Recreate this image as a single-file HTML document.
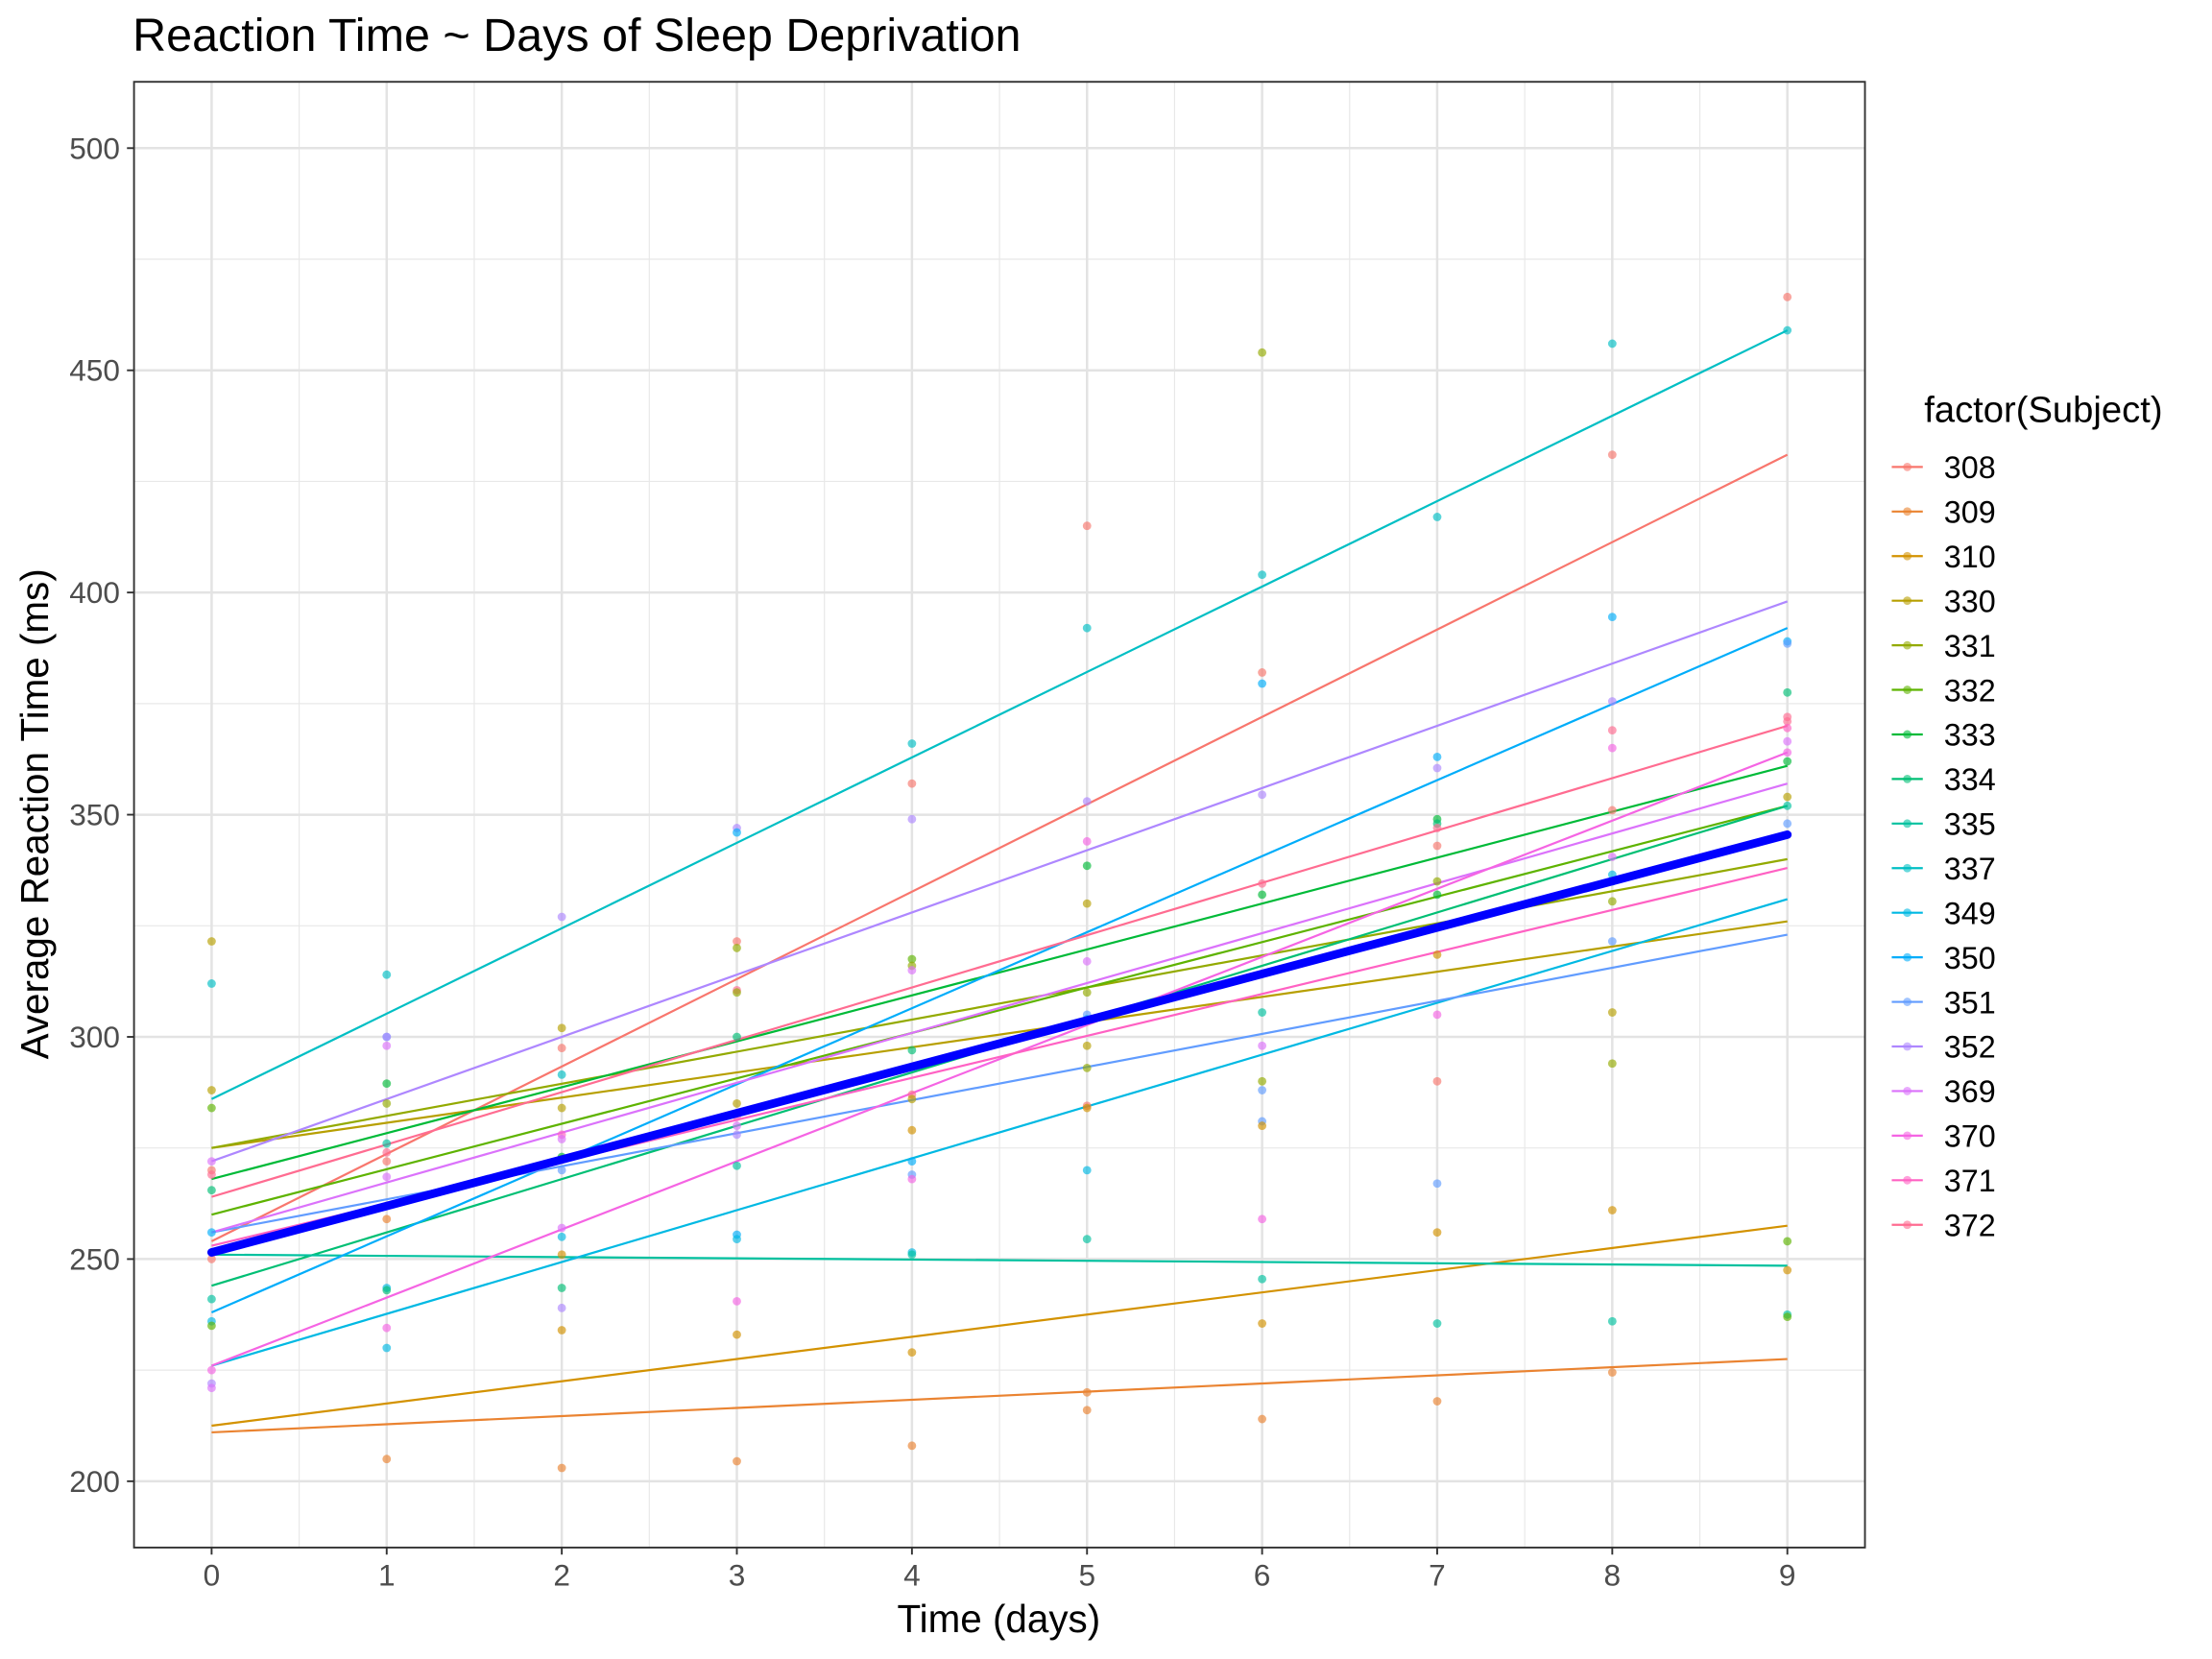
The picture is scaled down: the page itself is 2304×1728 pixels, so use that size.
<!DOCTYPE html>
<html><head><meta charset="utf-8"><style>
html,body{margin:0;padding:0;background:#fff;}
svg{display:block;font-family:"Liberation Sans",Arial,sans-serif;}
</style></head><body>
<svg id="s" xmlns="http://www.w3.org/2000/svg" width="2304" height="1728" viewBox="0 0 1568 1176">
<rect width="1568" height="1176" fill="#fff"/>
<g id="grid"></g>
<g id="lines"></g>
<g id="pts"></g>
<line x1="150" y1="0" x2="1267" y2="0" id="fit" stroke="#0000FF" stroke-width="6" stroke-linecap="round"/>
<rect x="95" y="58" width="1227" height="1039" fill="none" stroke="#333" stroke-width="1.3"/>
<g id="axes" fill="#4d4d4d" font-size="21.5"></g>
<text x="94" y="36" font-size="33" fill="#000">Reaction Time ~ Days of Sleep Deprivation</text>
<text x="708" y="1157" font-size="27.5" fill="#000" text-anchor="middle">Time (days)</text>
<text transform="translate(34,577) rotate(-90)" font-size="27.5" fill="#000" text-anchor="middle">Average Reaction Time (ms)</text>
<text x="1364" y="299" font-size="26" fill="#000">factor(Subject)</text>
<g id="leg" font-size="22" fill="#000"></g>
</svg>
<script>
var NS="http://www.w3.org/2000/svg";
function X(d){return 150+d*124.11;}
function Y(v){return 1050-(v-200)*3.15;}
function el(p,t,a){var e=document.createElementNS(NS,t);for(var k in a)e.setAttribute(k,a[k]);p.appendChild(e);return e;}
var g=document.getElementById('grid');
for(var v=225;v<=500;v+=50)el(g,'line',{x1:95,x2:1322,y1:Y(v),y2:Y(v),stroke:'#E8E8E8','stroke-width':0.8});
for(var d=0.5;d<9.5;d+=1)el(g,'line',{y1:58,y2:1097,x1:X(d),x2:X(d),stroke:'#E8E8E8','stroke-width':0.8});
for(var v=200;v<=500;v+=50)el(g,'line',{x1:95,x2:1322,y1:Y(v),y2:Y(v),stroke:'#E3E3E3','stroke-width':1.7});
for(var d=0;d<=9;d++)el(g,'line',{y1:58,y2:1097,x1:X(d),x2:X(d),stroke:'#E3E3E3','stroke-width':1.7});
var ax=document.getElementById('axes');
for(var v=200;v<=500;v+=50){el(ax,'line',{x1:90,x2:95,y1:Y(v),y2:Y(v),stroke:'#333','stroke-width':1.3});var t=el(ax,'text',{x:85,y:Y(v)+7.5,'text-anchor':'end'});t.textContent=v;}
for(var d=0;d<=9;d++){el(ax,'line',{y1:1097,y2:1102,x1:X(d),x2:X(d),stroke:'#333','stroke-width':1.3});var t=el(ax,'text',{x:X(d),y:1124,'text-anchor':'middle'});t.textContent=d;}
var S={
'308':['#F8766D',254,431],'309':['#EA8331',211,227.5],'310':['#D39200',212.5,257.5],'330':['#B79F00',275,326],
'331':['#93AA00',275,340],'332':['#5EB300',260,352],'333':['#00BA38',268,361],'334':['#00BF74',244,352],
'335':['#00C19F',251,248.5],'337':['#00BFC4',286,459],'349':['#00B9E3',226,331],'350':['#00ADFA',238,392],
'351':['#619CFF',256,323],'352':['#AE87FF',272,398],'369':['#DB72FB',256,357],'370':['#F564E3',226,364],
'371':['#FF61C3',253,338],'372':['#FF6C91',264,370]};
var L=document.getElementById('lines');
for(var k in S)el(L,'line',{x1:X(0),y1:Y(S[k][1]),x2:X(9),y2:Y(S[k][2]),stroke:S[k][0],'stroke-width':1.5});
var f=document.getElementById('fit');f.setAttribute('y1',Y(251.5));f.setAttribute('y2',Y(345.5));
var P=[
[0,321.5,'330'],[0,312,'337'],[0,288,'330'],[0,284,'332'],[0,272,'369'],[0,270,'308'],[0,269,'372'],[0,265.5,'334'],[0,256,'350'],[0,250,'308'],[0,241,'335'],[0,236,'349'],[0,235,'332'],[0,225,'370'],[0,222,'352'],[0,221,'369'],
[1,314,'337'],[1,300,'351'],[1,300,'352'],[1,298,'369'],[1,289.5,'333'],[1,285,'331'],[1,276,'335'],[1,274,'372'],[1,272,'308'],[1,268.5,'369'],[1,259,'309'],[1,243.5,'349'],[1,243,'334'],[1,234.5,'370'],[1,230,'349'],[1,205,'309'],
[2,327,'352'],[2,302,'330'],[2,297.5,'308'],[2,291.5,'337'],[2,284,'330'],[2,278,'371'],[2,277,'369'],[2,273,'333'],[2,272.5,'332'],[2,270,'351'],[2,257,'369'],[2,255,'349'],[2,251,'310'],[2,243.5,'334'],[2,239,'352'],[2,234,'310'],[2,203,'309'],
[3,347,'352'],[3,346,'350'],[3,321.5,'308'],[3,320,'331'],[3,310.5,'372'],[3,310,'331'],[3,300,'334'],[3,285,'330'],[3,282,'371'],[3,280,'369'],[3,278,'352'],[3,271,'335'],[3,255.5,'350'],[3,254.5,'349'],[3,240.5,'370'],[3,233,'310'],[3,204.5,'309'],
[4,366,'337'],[4,357,'308'],[4,349,'352'],[4,317.5,'332'],[4,316,'331'],[4,315,'369'],[4,297,'334'],[4,287,'372'],[4,286,'330'],[4,279,'310'],[4,272,'350'],[4,269,'351'],[4,268,'370'],[4,251.5,'349'],[4,251,'335'],[4,229,'310'],[4,208,'309'],
[5,415,'308'],[5,392,'337'],[5,353,'352'],[5,344,'370'],[5,338.5,'333'],[5,330,'330'],[5,317,'369'],[5,310,'331'],[5,305,'351'],[5,304,'350'],[5,298,'330'],[5,293,'331'],[5,284.5,'308'],[5,284,'310'],[5,270,'349'],[5,254.5,'335'],[5,220,'309'],[5,216,'309'],
[6,454,'331'],[6,404,'337'],[6,382,'308'],[6,379.5,'350'],[6,354.5,'352'],[6,334.5,'372'],[6,332,'333'],[6,305.5,'335'],[6,298,'369'],[6,290,'331'],[6,288,'351'],[6,281,'351'],[6,280,'310'],[6,259,'370'],[6,245.5,'335'],[6,235.5,'310'],[6,214,'309'],
[7,417,'337'],[7,363,'350'],[7,360.5,'352'],[7,349,'333'],[7,348,'334'],[7,347,'372'],[7,343,'308'],[7,335,'331'],[7,332,'333'],[7,318.5,'310'],[7,305,'370'],[7,290,'308'],[7,267,'351'],[7,256,'310'],[7,235.5,'335'],[7,218,'309'],
[8,456,'337'],[8,431,'308'],[8,394.5,'350'],[8,375.5,'352'],[8,369,'372'],[8,365,'370'],[8,351,'308'],[8,340.5,'369'],[8,336.5,'349'],[8,335,'335'],[8,330.5,'331'],[8,321.5,'351'],[8,305.5,'330'],[8,294,'331'],[8,261,'310'],[8,236,'335'],[8,224.5,'309'],
[9,466.5,'308'],[9,459,'337'],[9,389,'350'],[9,388.5,'351'],[9,377.5,'334'],[9,372,'372'],[9,371,'372'],[9,369.5,'371'],[9,366.5,'369'],[9,364,'370'],[9,362,'333'],[9,354,'330'],[9,352,'335'],[9,348,'351'],[9,254,'332'],[9,247.5,'310'],[9,237.5,'335'],[9,237,'332']];
var pg=document.getElementById('pts');
P.forEach(function(p){el(pg,'circle',{cx:X(p[0]),cy:Y(p[1]),r:3,fill:S[p[2]][0],'fill-opacity':0.65});});
var lg=document.getElementById('leg');var i=0;
for(var k in S){var y=331+i*31.6;el(lg,'line',{x1:1341,x2:1363,y1:y,y2:y,stroke:S[k][0],'stroke-width':1.5});el(lg,'circle',{cx:1352,cy:y,r:3,fill:S[k][0],'fill-opacity':0.6});var t=el(lg,'text',{x:1378,y:y+8});t.textContent=k;i++;}
</script>
</body></html>
